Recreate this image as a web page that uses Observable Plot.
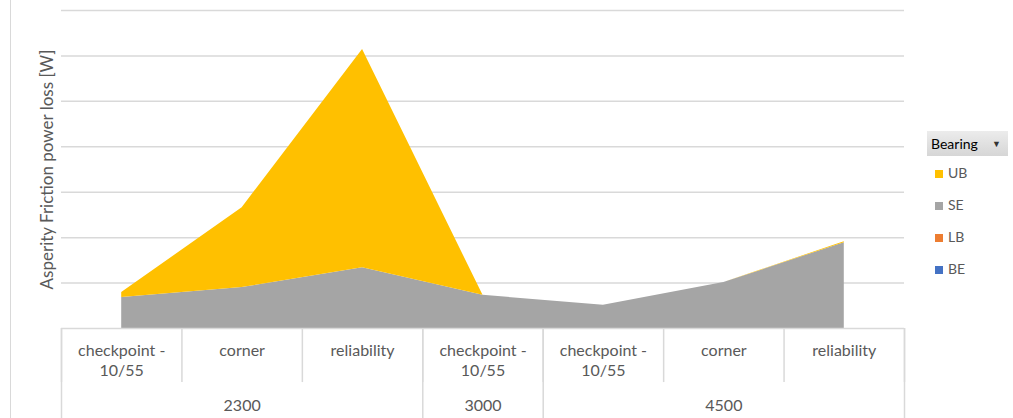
<!DOCTYPE html>
<html>
<head>
<meta charset="utf-8">
<script src="https://cdn.jsdelivr.net/npm/d3@7"></script>
<script src="https://cdn.jsdelivr.net/npm/@observablehq/plot@0.6"></script>
<style>
  body { margin: 0; background: #fff; }
  #wrap { position: relative; width: 1013px; height: 418px; overflow: hidden; font-family: Lato, "Open Sans", sans-serif; }
  #wrap .leftline { position: absolute; left: 10px; top: 0; width: 1px; height: 418px; background: #d9d9d9; }
  #legend { position: absolute; left: 927px; top: 131px; }
  #legend .btn { width: 81px; height: 25px; box-sizing: border-box; background: linear-gradient(#ececec, #d6d6d6); color: #000; font-size: 14px; line-height: 25px; padding-left: 4px; position: relative; }
  #legend .btn .arr { position: absolute; right: 7px; top: 0; font-size: 9px; color: #333; }
  #legend .item { position: absolute; left: 8px; font-size: 14px; color: #595959; height: 20px; line-height: 20px; white-space: nowrap; }
  #legend .item span { display: inline-block; width: 8px; height: 8px; margin-right: 5px; vertical-align: 0px; }
</style>
</head>
<body>
<div id="wrap"><div class="leftline"></div></div>
<script>
const categories = ["checkpoint -\n10/55", "corner", "reliability", "checkpoint -\n10/55", "checkpoint -\n10/55", "corner", "reliability"];
const groupNames = ["2300", "3000", "4500"];
const groupOf = ["2300", "2300", "2300", "3000", "4500", "4500", "4500"];
const seValues = [0.68, 0.90, 1.34, 0.73, 0.51, 1.01, 1.89];
const ubValues = [0.11, 1.76, 4.80, 0, 0, 0, 0.02];
const lbValues = [0, 0, 0, 0, 0, 0, 0];
const beValues = [0, 0, 0, 0, 0, 0, 0];
const bearings = ["UB", "SE", "LB", "BE"];
const colors = ["#FFC000", "#A5A5A5", "#ED7D31", "#4472C4"];
const gridTicks = [1, 2, 3, 4, 5, 6, 7];

const rows = [];
categories.forEach((c, i) => {
  rows.push({i, bearing: "BE", value: beValues[i]});
  rows.push({i, bearing: "LB", value: lbValues[i]});
  rows.push({i, bearing: "SE", value: seValues[i]});
  rows.push({i, bearing: "UB", value: ubValues[i]});
});

const inner = d3.range(categories.length + 1).map(k => k - 0.5);
const groupSpans = groupNames.map(g => {
  const idx = groupOf.map((v, i) => v === g ? i : -1).filter(i => i >= 0);
  return {name: g, start: d3.min(idx) - 0.5, end: d3.max(idx) + 0.5, mid: (d3.min(idx) + d3.max(idx)) / 2};
});
const outer = Array.from(new Set(groupSpans.flatMap(g => [g.start, g.end])));

const gridColor = "#d9d9d9";
const textColor = "#595959";

const chart = Plot.plot({
  width: 1013,
  height: 418,
  marginLeft: 61,
  marginRight: 109,
  marginTop: 10,
  marginBottom: 90,
  style: {fontFamily: "Lato, 'Open Sans', sans-serif", background: "transparent", overflow: "visible"},
  x: {domain: [-0.5, categories.length - 0.5], axis: null},
  y: {domain: [0, 7], axis: null},
  color: {domain: bearings, range: colors},
  marks: [
    Plot.gridY(gridTicks, {stroke: gridColor, strokeOpacity: 1, strokeWidth: 1.5}),
    Plot.areaY(rows, {x: "i", y: "value", fill: "bearing", order: ["BE", "LB", "SE", "UB"], curve: "linear"}),
    Plot.ruleY([0], {stroke: gridColor, strokeWidth: 1.5}),
    Plot.ruleX(inner, {x: d => d, y1: 0, y2: -1.19, stroke: gridColor, strokeWidth: 1.5}),
    Plot.ruleX(outer, {x: d => d, y1: 0, y2: -2.2, stroke: gridColor, strokeWidth: 1.5}),
    Plot.text(categories, {x: (d, i) => i, frameAnchor: "bottom", dy: 13, text: d => d, fill: textColor, fontSize: 16, lineHeight: 1.25, lineAnchor: "top"}),
    Plot.text(groupSpans, {x: "mid", frameAnchor: "bottom", dy: 77, text: "name", fill: textColor, fontSize: 16, lineAnchor: "middle"}),
    Plot.text(["Asperity Friction power loss [W]"], {frameAnchor: "left", dx: -14, rotate: -90, fill: textColor, fontSize: 17, lineAnchor: "middle", textAnchor: "middle"})
  ]
});
const wrap = document.getElementById("wrap");
wrap.appendChild(chart);

const legend = document.createElement("div");
legend.id = "legend";
legend.innerHTML = `<div class="btn">Bearing<span class="arr">&#9660;</span></div>` +
  bearings.map((b, k) => `<div class="item" style="top:${32 + k * 32}px"><span style="background:${colors[k]}"></span>${b}</div>`).join("");
wrap.appendChild(legend);
</script>
</body>
</html>
